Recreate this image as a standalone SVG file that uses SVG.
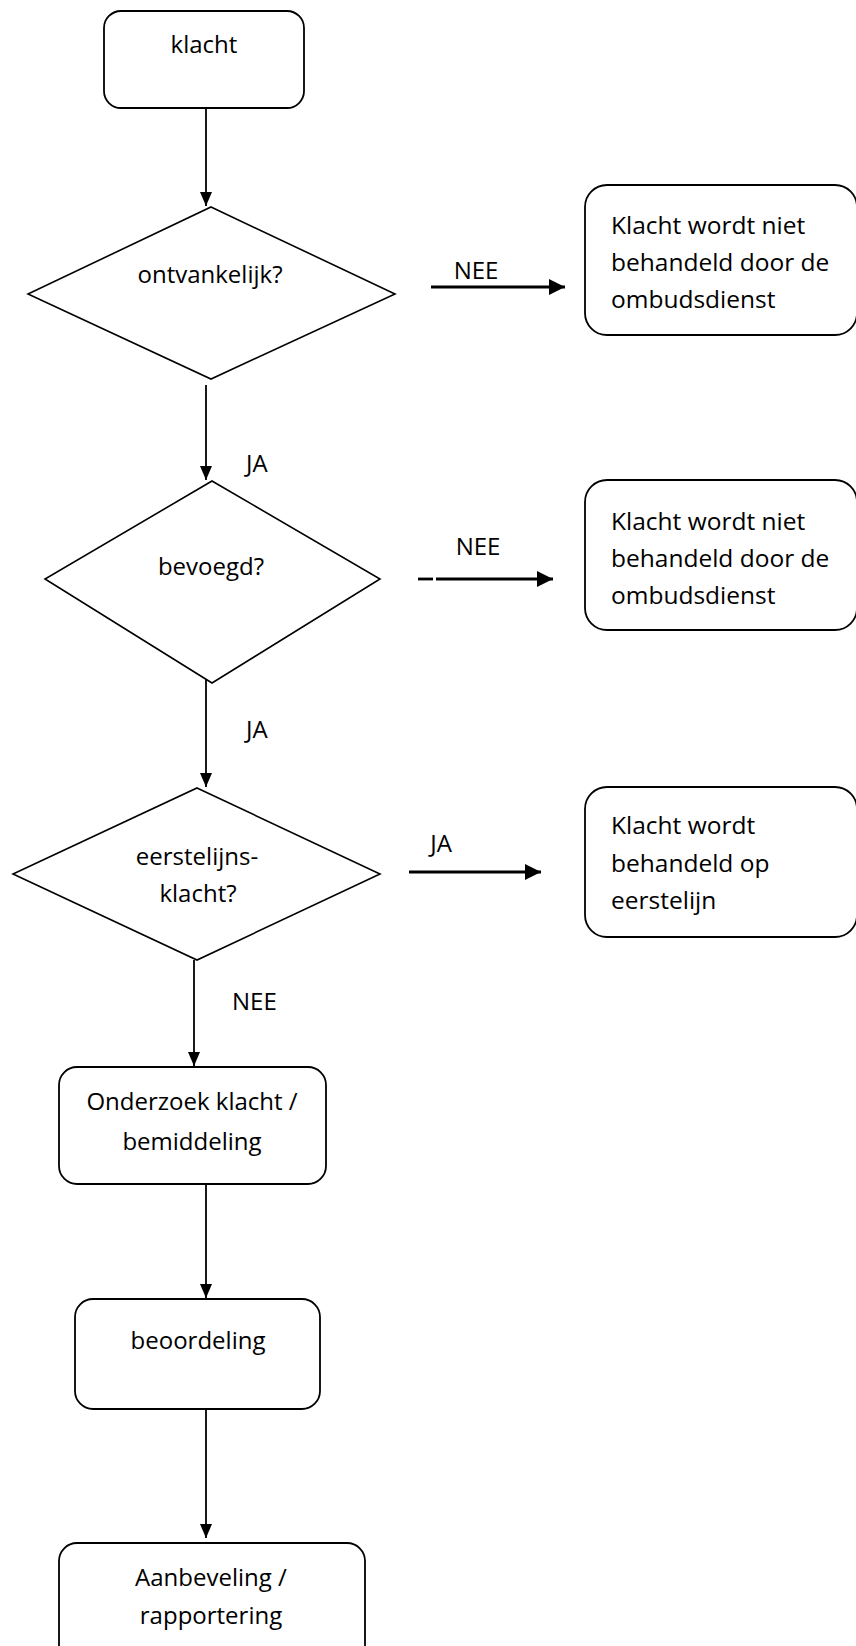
<svg xmlns="http://www.w3.org/2000/svg" width="856" height="1646" viewBox="0 0 856 1646">
<defs>
<style>
.box{fill:#fff;stroke:#000;stroke-width:1.8}
.dia{fill:#fff;stroke:#000;stroke-width:1.6}
.t{font-family:"Open Sans","Noto Sans","Liberation Sans",sans-serif;font-size:24px;fill:#000}
.r{font-size:24.5px}
.c{text-anchor:middle}
.v{stroke:#000;stroke-width:1.8;fill:none}
.h{stroke:#000;stroke-width:2.8;fill:none}
</style>
<marker id="av" viewBox="0 0 14 12" refX="14" refY="6" markerUnits="userSpaceOnUse" markerWidth="14" markerHeight="12" orient="auto"><path d="M0,0 L14,6 L0,12 Z" fill="#000"/></marker>
<marker id="ah" viewBox="0 0 16 16" refX="16" refY="8" markerUnits="userSpaceOnUse" markerWidth="16" markerHeight="16" orient="auto"><path d="M0,0 L16,8 L0,16 Z" fill="#000"/></marker>
</defs>
<rect width="856" height="1646" fill="#fff"/>

<g id="connectors">
<line class="v" x1="206" y1="108" x2="206" y2="206" marker-end="url(#av)"/>
<line class="v" x1="206" y1="385" x2="206" y2="480" marker-end="url(#av)"/>
<line class="v" x1="206" y1="676" x2="206" y2="787" marker-end="url(#av)"/>
<line class="v" x1="194" y1="960" x2="194" y2="1066" marker-end="url(#av)"/>
<line class="v" x1="206" y1="1184" x2="206" y2="1298" marker-end="url(#av)"/>
<line class="v" x1="206" y1="1409" x2="206" y2="1538" marker-end="url(#av)"/>
<line class="h" x1="431" y1="287" x2="565" y2="287" marker-end="url(#ah)"/>
<line class="h" x1="418" y1="579" x2="433" y2="579"/>
<line class="h" x1="436" y1="579" x2="553" y2="579" marker-end="url(#ah)"/>
<line class="h" x1="409" y1="872" x2="541" y2="872" marker-end="url(#ah)"/>
<text class="t" x="476" y="279" text-anchor="middle">NEE</text>
<text class="t" x="478" y="555" text-anchor="middle">NEE</text>
<text class="t" x="441" y="852" text-anchor="middle">JA</text>
<text class="t" x="246" y="472">JA</text>
<text class="t" x="246" y="738">JA</text>
<text class="t" x="232" y="1010">NEE</text>
</g>

<g id="n-klacht">
<rect class="box" x="104" y="11" width="200" height="97" rx="17"/>
<text class="t c" x="204" y="53">klacht</text>
</g>

<g id="n-ontvankelijk">
<polygon class="dia" points="211,207 395,294 211,379 28,294"/>
<text class="t c" x="210" y="283">ontvankelijk?</text>
</g>

<g id="n-nee1">
<rect class="box" x="585" y="185" width="272" height="150" rx="22"/>
<text class="t r" x="611" y="234">Klacht wordt niet</text>
<text class="t r" x="611" y="271">behandeld door de</text>
<text class="t r" x="611" y="308">ombudsdienst</text>
</g>

<g id="n-bevoegd">
<polygon class="dia" points="212,481 380,579 212,683 45,579"/>
<text class="t c" x="211" y="575">bevoegd?</text>
</g>

<g id="n-nee2">
<rect class="box" x="585" y="480" width="272" height="150" rx="22"/>
<text class="t r" x="611" y="530">Klacht wordt niet</text>
<text class="t r" x="611" y="567">behandeld door de</text>
<text class="t r" x="611" y="604">ombudsdienst</text>
</g>

<g id="n-eerstelijns">
<polygon class="dia" points="197,788 380,874 197,960 13,874"/>
<text class="t c" x="197" y="865">eerstelijns-</text>
<text class="t c" x="198" y="902">klacht?</text>
</g>

<g id="n-ja3">
<rect class="box" x="585" y="787" width="272" height="150" rx="22"/>
<text class="t r" x="611" y="834">Klacht wordt</text>
<text class="t r" x="611" y="872">behandeld op</text>
<text class="t r" x="611" y="909">eerstelijn</text>
</g>

<g id="n-onderzoek">
<rect class="box" x="59" y="1067" width="267" height="117" rx="18"/>
<text class="t c" x="192" y="1110">Onderzoek klacht /</text>
<text class="t c" x="192" y="1150">bemiddeling</text>
</g>

<g id="n-beoordeling">
<rect class="box" x="75" y="1299" width="245" height="110" rx="18"/>
<text class="t c" x="198" y="1349">beoordeling</text>
</g>

<g id="n-aanbeveling">
<rect class="box" x="59" y="1543" width="306" height="120" rx="18"/>
<text class="t c" x="211" y="1586">Aanbeveling /</text>
<text class="t c" x="211" y="1624">rapportering</text>
</g>
</svg>
